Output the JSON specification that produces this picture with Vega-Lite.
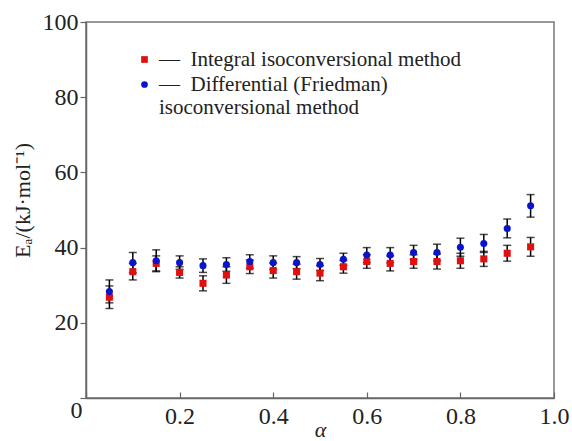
{
  "$schema": "https://vega.github.io/schema/vega-lite/v6.json",
  "width": 468,
  "height": 376,
  "autosize": {"type": "none"},
  "padding": {"left": 86, "top": 22, "right": 18, "bottom": 43},
  "background": "white",
  "config": {
    "view": {"stroke": "#777", "strokeWidth": 1.5},
    "font": "Liberation Serif",
    "axis": {"grid": false, "domainColor": "#666", "domainWidth": 1.5, "tickColor": "#666", "tickWidth": 1.2, "labelColor": "#222", "titleColor": "#222", "labelFont": "Liberation Serif", "titleFont": "Liberation Serif", "labelFontSize": 24, "titleFontSize": 22, "titleFontWeight": "normal"},
    "legend": {"labelFont": "Liberation Serif"}
  },
  "data": {"values": [
    {"alpha": 0.05, "method": "Integral", "E": 26.8, "lo": 23.8, "hi": 29.8},
    {"alpha": 0.10, "method": "Integral", "E": 33.6, "lo": 31.4, "hi": 35.8},
    {"alpha": 0.15, "method": "Integral", "E": 35.8, "lo": 33.8, "hi": 37.8},
    {"alpha": 0.20, "method": "Integral", "E": 33.4, "lo": 31.9, "hi": 34.9},
    {"alpha": 0.25, "method": "Integral", "E": 30.5, "lo": 28.5, "hi": 32.5},
    {"alpha": 0.30, "method": "Integral", "E": 32.7, "lo": 30.5, "hi": 34.9},
    {"alpha": 0.35, "method": "Integral", "E": 34.9, "lo": 33.1, "hi": 36.7},
    {"alpha": 0.40, "method": "Integral", "E": 33.9, "lo": 31.9, "hi": 35.9},
    {"alpha": 0.45, "method": "Integral", "E": 33.6, "lo": 31.6, "hi": 35.6},
    {"alpha": 0.50, "method": "Integral", "E": 33.2, "lo": 31.2, "hi": 35.2},
    {"alpha": 0.55, "method": "Integral", "E": 34.9, "lo": 33.2, "hi": 36.6},
    {"alpha": 0.60, "method": "Integral", "E": 36.3, "lo": 34.5, "hi": 38.1},
    {"alpha": 0.65, "method": "Integral", "E": 35.8, "lo": 33.8, "hi": 37.8},
    {"alpha": 0.70, "method": "Integral", "E": 36.3, "lo": 34.5, "hi": 38.1},
    {"alpha": 0.75, "method": "Integral", "E": 36.3, "lo": 34.3, "hi": 38.3},
    {"alpha": 0.80, "method": "Integral", "E": 36.5, "lo": 34.5, "hi": 38.5},
    {"alpha": 0.85, "method": "Integral", "E": 37.0, "lo": 35.0, "hi": 39.0},
    {"alpha": 0.90, "method": "Integral", "E": 38.5, "lo": 36.4, "hi": 40.6},
    {"alpha": 0.95, "method": "Integral", "E": 40.2, "lo": 37.7, "hi": 42.7},
    {"alpha": 0.05, "method": "Differential", "E": 28.3, "lo": 25.3, "hi": 31.4},
    {"alpha": 0.10, "method": "Differential", "E": 36.0, "lo": 33.3, "hi": 38.7},
    {"alpha": 0.15, "method": "Differential", "E": 36.5, "lo": 33.6, "hi": 39.4},
    {"alpha": 0.20, "method": "Differential", "E": 36.0, "lo": 34.2, "hi": 37.8},
    {"alpha": 0.25, "method": "Differential", "E": 35.2, "lo": 33.4, "hi": 37.0},
    {"alpha": 0.30, "method": "Differential", "E": 35.5, "lo": 33.7, "hi": 37.3},
    {"alpha": 0.35, "method": "Differential", "E": 36.3, "lo": 34.5, "hi": 38.1},
    {"alpha": 0.40, "method": "Differential", "E": 36.0, "lo": 34.2, "hi": 37.8},
    {"alpha": 0.45, "method": "Differential", "E": 36.0, "lo": 34.4, "hi": 37.6},
    {"alpha": 0.50, "method": "Differential", "E": 35.5, "lo": 33.9, "hi": 37.1},
    {"alpha": 0.55, "method": "Differential", "E": 36.9, "lo": 35.3, "hi": 38.5},
    {"alpha": 0.60, "method": "Differential", "E": 38.0, "lo": 36.0, "hi": 40.0},
    {"alpha": 0.65, "method": "Differential", "E": 38.0, "lo": 36.0, "hi": 40.0},
    {"alpha": 0.70, "method": "Differential", "E": 38.7, "lo": 36.8, "hi": 40.6},
    {"alpha": 0.75, "method": "Differential", "E": 38.7, "lo": 36.5, "hi": 40.9},
    {"alpha": 0.80, "method": "Differential", "E": 40.1, "lo": 37.7, "hi": 42.5},
    {"alpha": 0.85, "method": "Differential", "E": 41.1, "lo": 38.7, "hi": 43.5},
    {"alpha": 0.90, "method": "Differential", "E": 45.1, "lo": 42.6, "hi": 47.6},
    {"alpha": 0.95, "method": "Differential", "E": 51.1, "lo": 48.1, "hi": 54.1}
  ]},
  "encoding": {
    "x": {"field": "alpha", "type": "quantitative",
      "scale": {"domain": [0, 1], "nice": false},
      "axis": {"values": [0, 0.2, 0.4, 0.6, 0.8, 1.0], "format": ".1f", "labelExpr": "datum.value == 0 ? '0' : datum.label", "tickSize": -6,
        "labelPadding": {"condition": {"test": "datum.value == 0", "value": 6}, "value": 12},
        "labelAlign": {"condition": {"test": "datum.value == 0", "value": "right"}, "value": "center"},
        "labelOffset": {"condition": {"test": "datum.value == 0", "value": -4}, "value": 0},
        "title": "α", "titleFontStyle": "italic", "titlePadding": -9}
    }
  },
  "layer": [
    {
      "mark": {"type": "errorbar", "ticks": {"size": 8, "color": "black", "thickness": 1.5}, "color": "black", "thickness": 1.5},
      "encoding": {
        "y": {"field": "lo", "type": "quantitative", "scale": {"domain": [0, 100], "nice": false},
          "axis": {"values": [0, 20, 40, 60, 80, 100], "labelExpr": "datum.value == 0 ? '' : datum.label", "tickSize": 6, "labelPadding": 2, "title": "Eₐ/(kJ·mol⁻¹)", "titlePadding": 8, "titleY": 178}},
        "y2": {"field": "hi"},
        "detail": {"field": "method"}
      }
    },
    {
      "mark": {"type": "point", "filled": true, "opacity": 1, "size": 50},
      "encoding": {
        "y": {"field": "E", "type": "quantitative"},
        "color": {"field": "method", "type": "nominal",
          "scale": {"domain": ["Integral", "Differential"], "range": ["#e01010", "#0a14c8"]},
          "legend": {"orient": "none", "legendX": 48, "legendY": 27, "title": null, "padding": 0,
            "labelFontSize": 21, "labelColor": "#222", "labelLimit": 0, "symbolSize": 45, "rowPadding": 3, "labelOffset": 4,
            "labelExpr": "datum.value == 'Integral' ? '—\u00a0\u00a0Integral isoconversional method' : ['—\u00a0\u00a0Differential (Friedman)', '\u00a0\u00a0\u00a0\u00a0\u00a0\u00a0\u00a0isoconversional method']"}},
        "shape": {"field": "method", "type": "nominal",
          "scale": {"domain": ["Integral", "Differential"], "range": ["square", "circle"]}}
      }
    }
  ]
}
